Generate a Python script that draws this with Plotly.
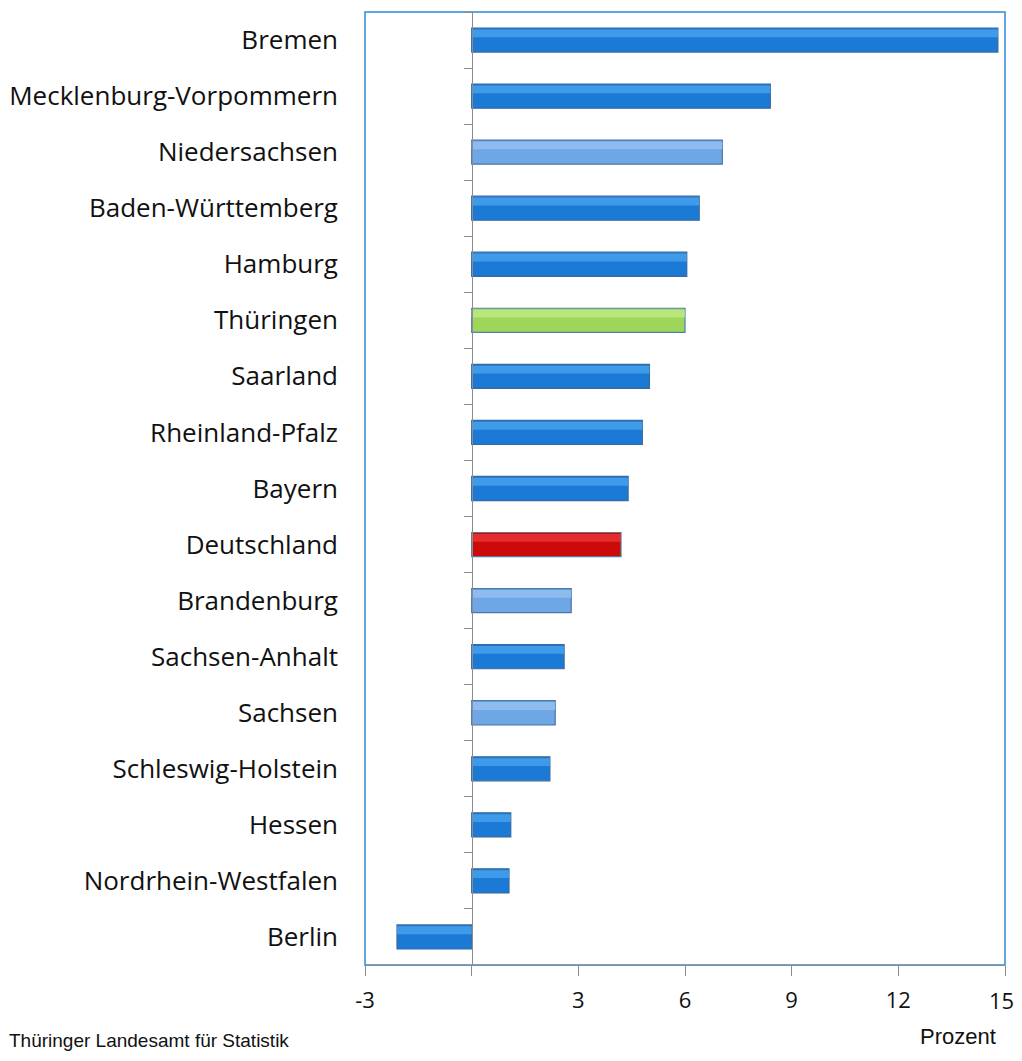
import plotly.graph_objects as go

states = ["Bremen", "Mecklenburg-Vorpommern", "Niedersachsen", "Baden-Württemberg",
          "Hamburg", "Thüringen", "Saarland", "Rheinland-Pfalz", "Bayern", "Deutschland",
          "Brandenburg", "Sachsen-Anhalt", "Sachsen", "Schleswig-Holstein", "Hessen",
          "Nordrhein-Westfalen", "Berlin"]
values = [14.8, 8.4, 7.05, 6.4, 6.05, 6.0, 5.0, 4.8, 4.4, 4.2,
          2.8, 2.6, 2.35, 2.2, 1.1, 1.05, -2.1]
kinds = ["d", "d", "l", "d", "d", "g", "d", "d", "d", "r",
         "l", "d", "l", "d", "d", "d", "d"]
x_ticks = [-3, 0, 3, 6, 9, 12, 15]
x_tick_text = ["-3", "", "3", "6", "9", "12", "15"]

fill = {"d": "#1b7ad6", "l": "#6ea6e6", "g": "#9ed65a", "r": "#cc0a0a"}
hi = {"d": "#4fa9f2", "l": "#9cc6f2", "g": "#c3ec8a", "r": "#f03a3a"}
edge = {"d": "#3a6a9c", "l": "#4a78a8", "g": "#4f7fb0", "r": "#5a78a0"}

n = len(states)
pos = list(range(n))

fig = go.Figure()
fig.add_trace(go.Bar(
    y=pos, x=values, orientation="h", width=0.43,
    marker=dict(color=[fill[k] for k in kinds],
                line=dict(color=[edge[k] for k in kinds], width=1.2)),
    yaxis="y", hoverinfo="skip"))
# gloss highlight on upper part of each bar
fig.add_trace(go.Bar(
    y=pos, x=values, orientation="h", width=0.14, offset=-0.19,
    marker=dict(color=[hi[k] for k in kinds], opacity=0.7, line=dict(width=0)),
    yaxis="y", hoverinfo="skip"))
# dummy trace to make yaxis2 visible
fig.add_trace(go.Scatter(x=[None], y=[None], yaxis="y2", showlegend=False))

tick_font = dict(size=22, family="Open Sans", color="#111111")

fig.update_layout(
    width=1006, height=1045,
    margin=dict(l=357, r=9, t=4, b=88, pad=0, autoexpand=False),
    paper_bgcolor="white", plot_bgcolor="white",
    showlegend=False, barmode="overlay",
    font=dict(family="Open Sans", color="#111111"),
    xaxis=dict(range=[-3, 15], tickvals=x_ticks,
               ticktext=x_tick_text[:-1] + [""], automargin=False,
               showgrid=False, zeroline=False, showline=True, linecolor="#8c8c8c",
               linewidth=1, ticks="outside", ticklen=10, tickcolor="#8c8c8c",
               ticklabelstandoff=6, tickfont=tick_font, fixedrange=True),
    yaxis=dict(range=[n - 0.5, -0.5], tickvals=pos, ticktext=states,
               automargin=False,
               showgrid=False, zeroline=False, showline=False, ticks="",
               tickfont=dict(size=26, family="Open Sans"), ticklabelstandoff=26),
    yaxis2=dict(overlaying="y", anchor="free", position=1 / 6, side="left",
                automargin=False,
                range=[n - 0.5, -0.5], tickvals=[i + 0.5 for i in range(-1, n)],
                showticklabels=False, showgrid=False, zeroline=False,
                showline=True, linecolor="#8c8c8c", linewidth=1,
                ticks="outside", ticklen=8, tickcolor="#8c8c8c"),
    shapes=[dict(type="rect", xref="paper", yref="paper", x0=0, x1=1, y0=0, y1=1,
                 line=dict(color="#2d8ad8", width=1.5), layer="below")],
    annotations=[
        # last tick label, nudged to stay inside the page
        dict(text=x_tick_text[-1], xref="x", yref="paper", x=x_ticks[-1], y=0,
             xshift=-4, yshift=-35, xanchor="center", yanchor="middle",
             showarrow=False, font=tick_font),
        dict(text="Prozent", xref="paper", yref="paper", x=(958 - 365) / 640, y=0,
             yshift=-71, xanchor="center", yanchor="middle", showarrow=False,
             font=dict(size=22, family="Liberation Sans")),
        dict(text="Thüringer Landesamt für Statistik", xref="paper", yref="paper",
             x=0, xshift=-358, y=0, yshift=-75, xanchor="left", yanchor="middle",
             showarrow=False, font=dict(size=19, family="Liberation Sans")),
    ],
)

fig.write_html("out.html", config={"displayModeBar": False})
